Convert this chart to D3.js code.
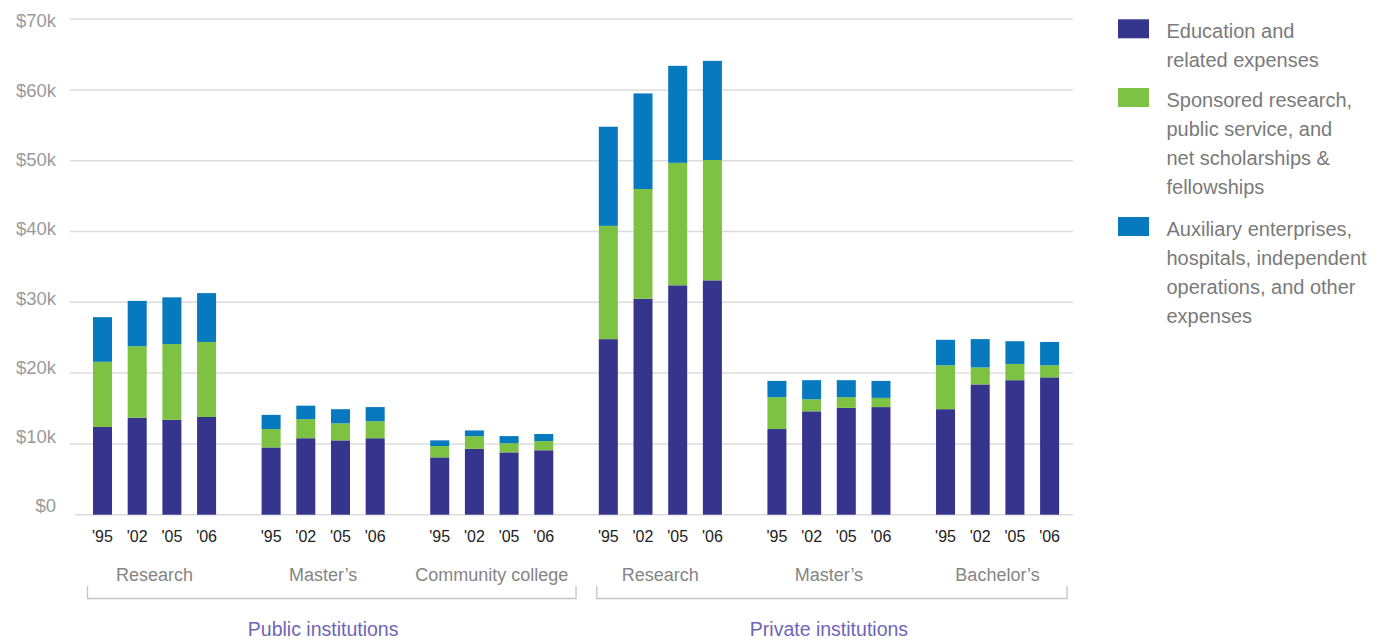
<!DOCTYPE html>
<html>
<head>
<meta charset="utf-8">
<script src="https://cdn.jsdelivr.net/npm/d3@7/dist/d3.min.js"></script>
<style>
  html, body { margin: 0; padding: 0; background: #fff; }
  svg { display: block; font-family: "Liberation Sans", Arial, sans-serif; }
</style>
</head>
<body>
<svg id="chart" width="1400" height="641"></svg>
<script>
// Expenses per FTE student, thousands of dollars
const years = ["'95", "'02", "'05", "'06"];
const groups = ["Research", "Master’s", "Community college", "Research", "Master’s", "Bachelor’s"];
const sectors = ["Public institutions", "Private institutions"];
const groupSector = [0, 0, 0, 1, 1, 1];

// one row per group, one value per year
const education = [
  [12.4, 13.7, 13.4, 13.8],
  [9.5, 10.8, 10.5, 10.8],
  [8.1, 9.3, 8.8, 9.1],
  [24.8, 30.5, 32.4, 33.1],
  [12.1, 14.6, 15.1, 15.2],
  [14.9, 18.4, 19.0, 19.4]
];
const sponsored = [
  [9.2, 10.1, 10.7, 10.6],
  [2.6, 2.7, 2.4, 2.4],
  [1.6, 1.8, 1.3, 1.3],
  [16.0, 15.5, 17.3, 17.0],
  [4.5, 1.7, 1.5, 1.3],
  [6.2, 2.4, 2.3, 1.7]
];
const auxiliary = [
  [6.3, 6.4, 6.6, 6.9],
  [2.0, 1.9, 2.0, 2.0],
  [0.8, 0.8, 1.0, 1.0],
  [14.0, 13.5, 13.7, 14.0],
  [2.3, 2.7, 2.4, 2.4],
  [3.6, 4.0, 3.2, 3.3]
];
const yTicks = [0, 10, 20, 30, 40, 50, 60, 70];
const seriesNames = [
  ["Education and", "related expenses"],
  ["Sponsored research,", "public service, and", "net scholarships &", "fellowships"],
  ["Auxiliary enterprises,", "hospitals, independent", "operations, and other", "expenses"]
];
const seriesKeys = ["education", "sponsored", "auxiliary"];
const colors = ["#35358d", "#7dc243", "#0779bf"];

const svg = d3.select("#chart");

// scales
const y = d3.scaleLinear().domain([0, 70]).range([514.7, 19.1]);
const yLabel = d3.scaleLinear().domain([0, 70]).range([506, 21]);
const xGroup = d3.scaleBand().domain(d3.range(groups.length))
  .range([70, 1082.1]).paddingInner(0.27).paddingOuter(0.1364);
const xYear = d3.scaleBand().domain(years)
  .range([0, xGroup.bandwidth()]).paddingInner(0.452).paddingOuter(0);
const color = d3.scaleOrdinal().domain(seriesKeys).range(colors);

// gridlines
svg.append("g").selectAll("line").data(yTicks).join("line")
  .attr("x1", d => d === 0 ? 75 : 70).attr("x2", 1073)
  .attr("y1", d => y(d)).attr("y2", d => y(d))
  .attr("stroke", "#dcdcdc").attr("stroke-width", 1.5);

// y-axis labels
const yAxis = d3.axisLeft(yLabel).tickValues(yTicks).tickSize(0).tickPadding(0)
  .tickFormat(d => d === 0 ? "$0" : "$" + d + "k");
const gy = svg.append("g").attr("transform", "translate(56,0)").call(yAxis);
gy.select(".domain").remove();
gy.selectAll("text").attr("fill", "#9a9a9a").attr("font-size", 18.5)
  .attr("font-family", "Liberation Sans, Arial, sans-serif");

// stacked bars
const rows = [];
groups.forEach((g, gi) => {
  years.forEach((yr, yi) => {
    rows.push({ gi, year: yr, education: education[gi][yi], sponsored: sponsored[gi][yi], auxiliary: auxiliary[gi][yi] });
  });
});
const stack = d3.stack().keys(seriesKeys);
const layers = stack(rows);

svg.append("g").selectAll("g").data(layers).join("g")
  .attr("fill", d => color(d.key))
  .selectAll("rect").data(d => d).join("rect")
  .attr("x", d => xGroup(d.data.gi) + xYear(d.data.year))
  .attr("width", xYear.bandwidth())
  .attr("y", d => y(d[1]))
  .attr("height", d => y(d[0]) - y(d[1]));

// year labels under each bar
svg.append("g").selectAll("text").data(rows).join("text")
  .attr("x", d => xGroup(d.gi) + xYear(d.year) + xYear.bandwidth() / 2)
  .attr("y", 542)
  .attr("text-anchor", "middle")
  .attr("font-size", 16).attr("fill", "#222")
  .text(d => d.year);

// group labels
svg.append("g").selectAll("text").data(groups).join("text")
  .attr("x", (d, i) => xGroup(i) + xGroup.bandwidth() / 2)
  .attr("y", 581)
  .attr("text-anchor", "middle")
  .attr("font-size", 18).attr("fill", "#858585")
  .text(d => d);

// sector brackets
const brackets = [
  { x1: xGroup(0) - 5.5, x2: xGroup(2) + xGroup.bandwidth() + 22.75 },
  { x1: xGroup(3) - 2, x2: xGroup(5) + xGroup.bandwidth() + 8 }
];
svg.append("g").selectAll("path").data(brackets).join("path")
  .attr("d", d => `M${d.x1},586V598.5H${d.x2}V586`)
  .attr("fill", "none").attr("stroke", "#c4c4c4").attr("stroke-width", 1.3);

// sector titles, centred on each sector's middle group
svg.append("g").selectAll("text").data(sectors).join("text")
  .attr("x", (d, i) => {
    const gis = groupSector.map((s, gi) => s === i ? gi : -1).filter(v => v >= 0);
    const mid = gis[Math.floor(gis.length / 2)];
    return xGroup(mid) + xGroup.bandwidth() / 2;
  })
  .attr("y", 636)
  .attr("text-anchor", "middle")
  .attr("font-size", 19.5).attr("fill", "#6e66b6")
  .text(d => d);

// legend
const legendTop = [19.3, 88, 217];
const legend = svg.append("g").selectAll("g").data(seriesKeys).join("g")
  .attr("transform", (d, i) => `translate(1118,${legendTop[i]})`);
legend.append("rect").attr("width", 31).attr("height", 19).attr("fill", d => color(d));
legend.append("text")
  .attr("x", 48.5).attr("y", 18.5)
  .attr("font-size", 20).attr("fill", "#7a7a7a")
  .selectAll("tspan").data((d, i) => seriesNames[i]).join("tspan")
  .attr("x", 48.5).attr("dy", (d, i) => i === 0 ? 0 : 29.3)
  .text(d => d);
</script>
</body>
</html>
